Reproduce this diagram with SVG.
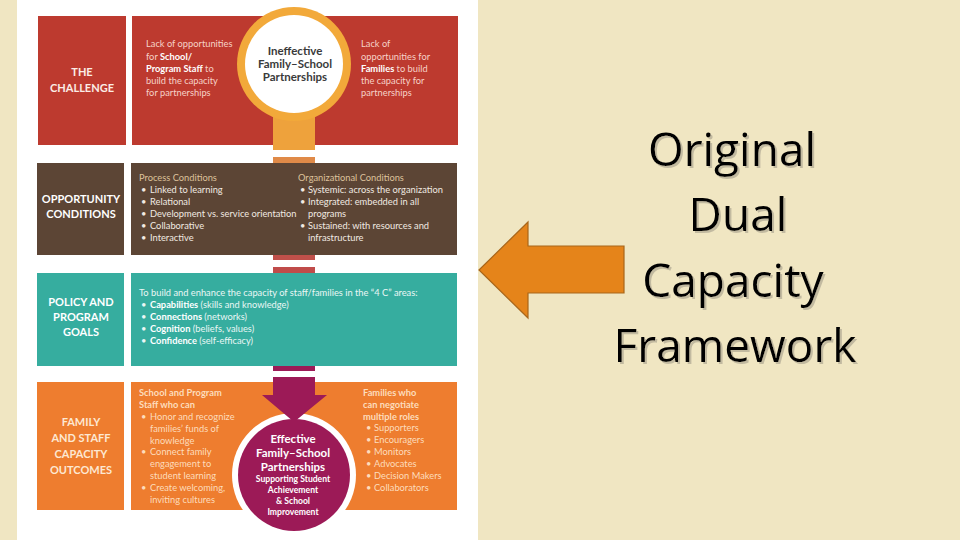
<svg xmlns="http://www.w3.org/2000/svg" width="960" height="540" viewBox="0 0 960 540">
<defs>
<style>
.lbl{font-family:Lato,"Open Sans","Liberation Sans",sans-serif;font-weight:bold;font-size:11px;text-anchor:middle}
.body{font-family:Lato,"Open Sans","Liberation Sans",sans-serif;font-size:9.3px}
.b{font-weight:bold}
.ctr{font-family:Lato,"Open Sans","Liberation Sans",sans-serif;font-weight:bold;text-anchor:middle}
.title{font-family:"Open Sans","Noto Sans","Liberation Sans",sans-serif;font-size:46px;fill:#000;text-anchor:middle}
</style>
<filter id="sh" x="-10%" y="-10%" width="130%" height="140%">
<feDropShadow dx="2" dy="2" stdDeviation="0.6" flood-color="#bdb59c" flood-opacity="0.9"/>
</filter>
</defs>
<rect x="0" y="0" width="960" height="540" fill="#f0e6c2"/>
<rect x="17" y="0" width="461" height="540" fill="#ffffff"/>

<g id="challenge">
<rect x="38" y="16" width="88" height="129" fill="#bd3a2f"/>
<rect x="132" y="16" width="326" height="129" fill="#bd3a2f"/>
<text class="lbl" fill="#fbece6"><tspan x="82" y="76">THE</tspan><tspan x="82" y="92">CHALLENGE</tspan></text>
<text class="body" fill="#f6d2c8">
<tspan x="146" y="47">Lack of opportunities</tspan>
<tspan x="146" y="59.5">for <tspan class="b" fill="#fff">School/</tspan></tspan>
<tspan x="146" y="72" class="b" fill="#fff">Program Staff<tspan font-weight="normal" fill="#f6d2c8"> to</tspan></tspan>
<tspan x="146" y="84">build the capacity</tspan>
<tspan x="146" y="96">for partnerships</tspan>
</text>
<text class="body" fill="#f6d2c8">
<tspan x="361" y="47">Lack of</tspan>
<tspan x="361" y="59.5">opportunities for</tspan>
<tspan x="361" y="72" class="b" fill="#fff">Families<tspan font-weight="normal" fill="#f6d2c8"> to build</tspan></tspan>
<tspan x="361" y="84">the capacity for</tspan>
<tspan x="361" y="96">partnerships</tspan>
</text>
</g>

<g id="connectors">
<rect x="273" y="100" width="42" height="50" fill="#eea23c"/>
<rect x="273" y="157" width="42" height="6" fill="#e08a48"/>
<rect x="273" y="255" width="42" height="5" fill="#c0504a"/>
<rect x="273" y="267" width="42" height="6" fill="#c04c4a"/>
<rect x="273" y="366" width="42" height="5" fill="#9c1a57"/>
</g>

<g id="ineffective">
<circle cx="294" cy="64" r="57" fill="#f2a93a"/>
<circle cx="294" cy="64" r="49" fill="#ffffff"/>
<text class="ctr" font-size="11.5" fill="#3a3a3a"><tspan x="295" y="55">Ineffective</tspan><tspan x="295" y="68">Family–School</tspan><tspan x="295" y="81">Partnerships</tspan></text>
</g>

<g id="opportunity">
<rect x="37" y="163" width="87" height="92" fill="#5c4535"/>
<rect x="131" y="163" width="326" height="92" fill="#5c4535"/>
<text class="lbl" fill="#ffffff"><tspan x="81" y="203">OPPORTUNITY</tspan><tspan x="81" y="218">CONDITIONS</tspan></text>
<text class="body" fill="#f1eae2">
<tspan x="139" y="181" fill="#dcc29c">Process Conditions</tspan>
<tspan x="141" y="193">•</tspan><tspan x="150" y="193">Linked to learning</tspan>
<tspan x="141" y="205">•</tspan><tspan x="150" y="205">Relational</tspan>
<tspan x="141" y="217">•</tspan><tspan x="150" y="217">Development vs. service orientation</tspan>
<tspan x="141" y="229">•</tspan><tspan x="150" y="229">Collaborative</tspan>
<tspan x="141" y="241">•</tspan><tspan x="150" y="241">Interactive</tspan>
</text>
<text class="body" fill="#f1eae2">
<tspan x="298" y="181" fill="#dcc29c">Organizational Conditions</tspan>
<tspan x="300" y="193">•</tspan><tspan x="308" y="193">Systemic: across the organization</tspan>
<tspan x="300" y="205">•</tspan><tspan x="308" y="205">Integrated: embedded in all</tspan>
<tspan x="308" y="217">programs</tspan>
<tspan x="300" y="229">•</tspan><tspan x="308" y="229">Sustained: with resources and</tspan>
<tspan x="308" y="241">infrastructure</tspan>
</text>
</g>

<g id="policy">
<rect x="37" y="273" width="87" height="93" fill="#36ad9f"/>
<rect x="131" y="273" width="326" height="93" fill="#36ad9f"/>
<text class="lbl" fill="#ffffff"><tspan x="81" y="306">POLICY AND</tspan><tspan x="81" y="321">PROGRAM</tspan><tspan x="81" y="336">GOALS</tspan></text>
<text class="body" fill="#eaf7f5">
<tspan x="139" y="296">To build and enhance the capacity of staff/families in the “4 C” areas:</tspan>
<tspan x="141" y="308">•</tspan><tspan x="150" y="308"><tspan class="b" fill="#fff">Capabilities</tspan> (skills and knowledge)</tspan>
<tspan x="141" y="320">•</tspan><tspan x="150" y="320"><tspan class="b" fill="#fff">Connections</tspan> (networks)</tspan>
<tspan x="141" y="332">•</tspan><tspan x="150" y="332"><tspan class="b" fill="#fff">Cognition</tspan> (beliefs, values)</tspan>
<tspan x="141" y="344">•</tspan><tspan x="150" y="344"><tspan class="b" fill="#fff">Confidence</tspan> (self-efficacy)</tspan>
</text>
</g>

<g id="outcomes">
<rect x="37" y="382" width="87" height="128" fill="#ee7d2f"/>
<rect x="131" y="382" width="326" height="128" fill="#ee7d2f"/>
<text class="lbl" fill="#fde8d2"><tspan x="81" y="426">FAMILY</tspan><tspan x="81" y="442">AND STAFF</tspan><tspan x="81" y="458">CAPACITY</tspan><tspan x="81" y="474">OUTCOMES</tspan></text>
<text class="body" fill="#fddcbc">
<tspan x="139" y="396" class="b">School and Program</tspan>
<tspan x="139" y="408" class="b">Staff who can</tspan>
<tspan x="141" y="420">•</tspan><tspan x="150" y="420">Honor and recognize</tspan>
<tspan x="150" y="432">families’ funds of</tspan>
<tspan x="150" y="444">knowledge</tspan>
<tspan x="141" y="455">•</tspan><tspan x="150" y="455">Connect family</tspan>
<tspan x="150" y="467">engagement to</tspan>
<tspan x="150" y="479">student learning</tspan>
<tspan x="141" y="491">•</tspan><tspan x="150" y="491">Create welcoming,</tspan>
<tspan x="150" y="503">inviting cultures</tspan>
</text>
<text class="body" fill="#fddcbc">
<tspan x="363" y="396" class="b">Families who</tspan>
<tspan x="363" y="408" class="b">can negotiate</tspan>
<tspan x="363" y="420" class="b">multiple roles</tspan>
<tspan x="366" y="431">•</tspan><tspan x="374" y="431">Supporters</tspan>
<tspan x="366" y="443">•</tspan><tspan x="374" y="443">Encouragers</tspan>
<tspan x="366" y="455">•</tspan><tspan x="374" y="455">Monitors</tspan>
<tspan x="366" y="467">•</tspan><tspan x="374" y="467">Advocates</tspan>
<tspan x="366" y="479">•</tspan><tspan x="374" y="479">Decision Makers</tspan>
<tspan x="366" y="491">•</tspan><tspan x="374" y="491">Collaborators</tspan>
</text>
</g>

<g id="effective">
<circle cx="294" cy="475" r="62" fill="#ffffff"/>
<circle cx="294" cy="475" r="56" fill="#9c1a57"/>
<text class="ctr" font-size="11.5" fill="#ffffff"><tspan x="293" y="443">Effective</tspan><tspan x="293" y="457">Family–School</tspan><tspan x="293" y="471">Partnerships</tspan></text>
<text class="ctr" font-size="8.6" fill="#ffffff"><tspan x="293" y="482">Supporting Student</tspan><tspan x="293" y="493">Achievement</tspan><tspan x="293" y="504">&amp; School</tspan><tspan x="293" y="515">Improvement</tspan></text>
</g>

<g id="connectors-arrow">
<polygon points="273,377 315,377 315,395 327,395 294,422 262,395 273,395" fill="#9c1a57"/>
</g>

<g id="pointer">
<polygon points="479,270 528,222 528,246 624,246 624,293 528,293 528,318" fill="#e5841a" stroke="#a8661a" stroke-width="1.2"/>
</g>

<g id="title" filter="url(#sh)">
<text class="title"><tspan x="732" y="166">Original</tspan><tspan x="738" y="231">Dual</tspan><tspan x="733" y="297">Capacity</tspan><tspan x="735" y="362">Framework</tspan></text>
</g>
</svg>
